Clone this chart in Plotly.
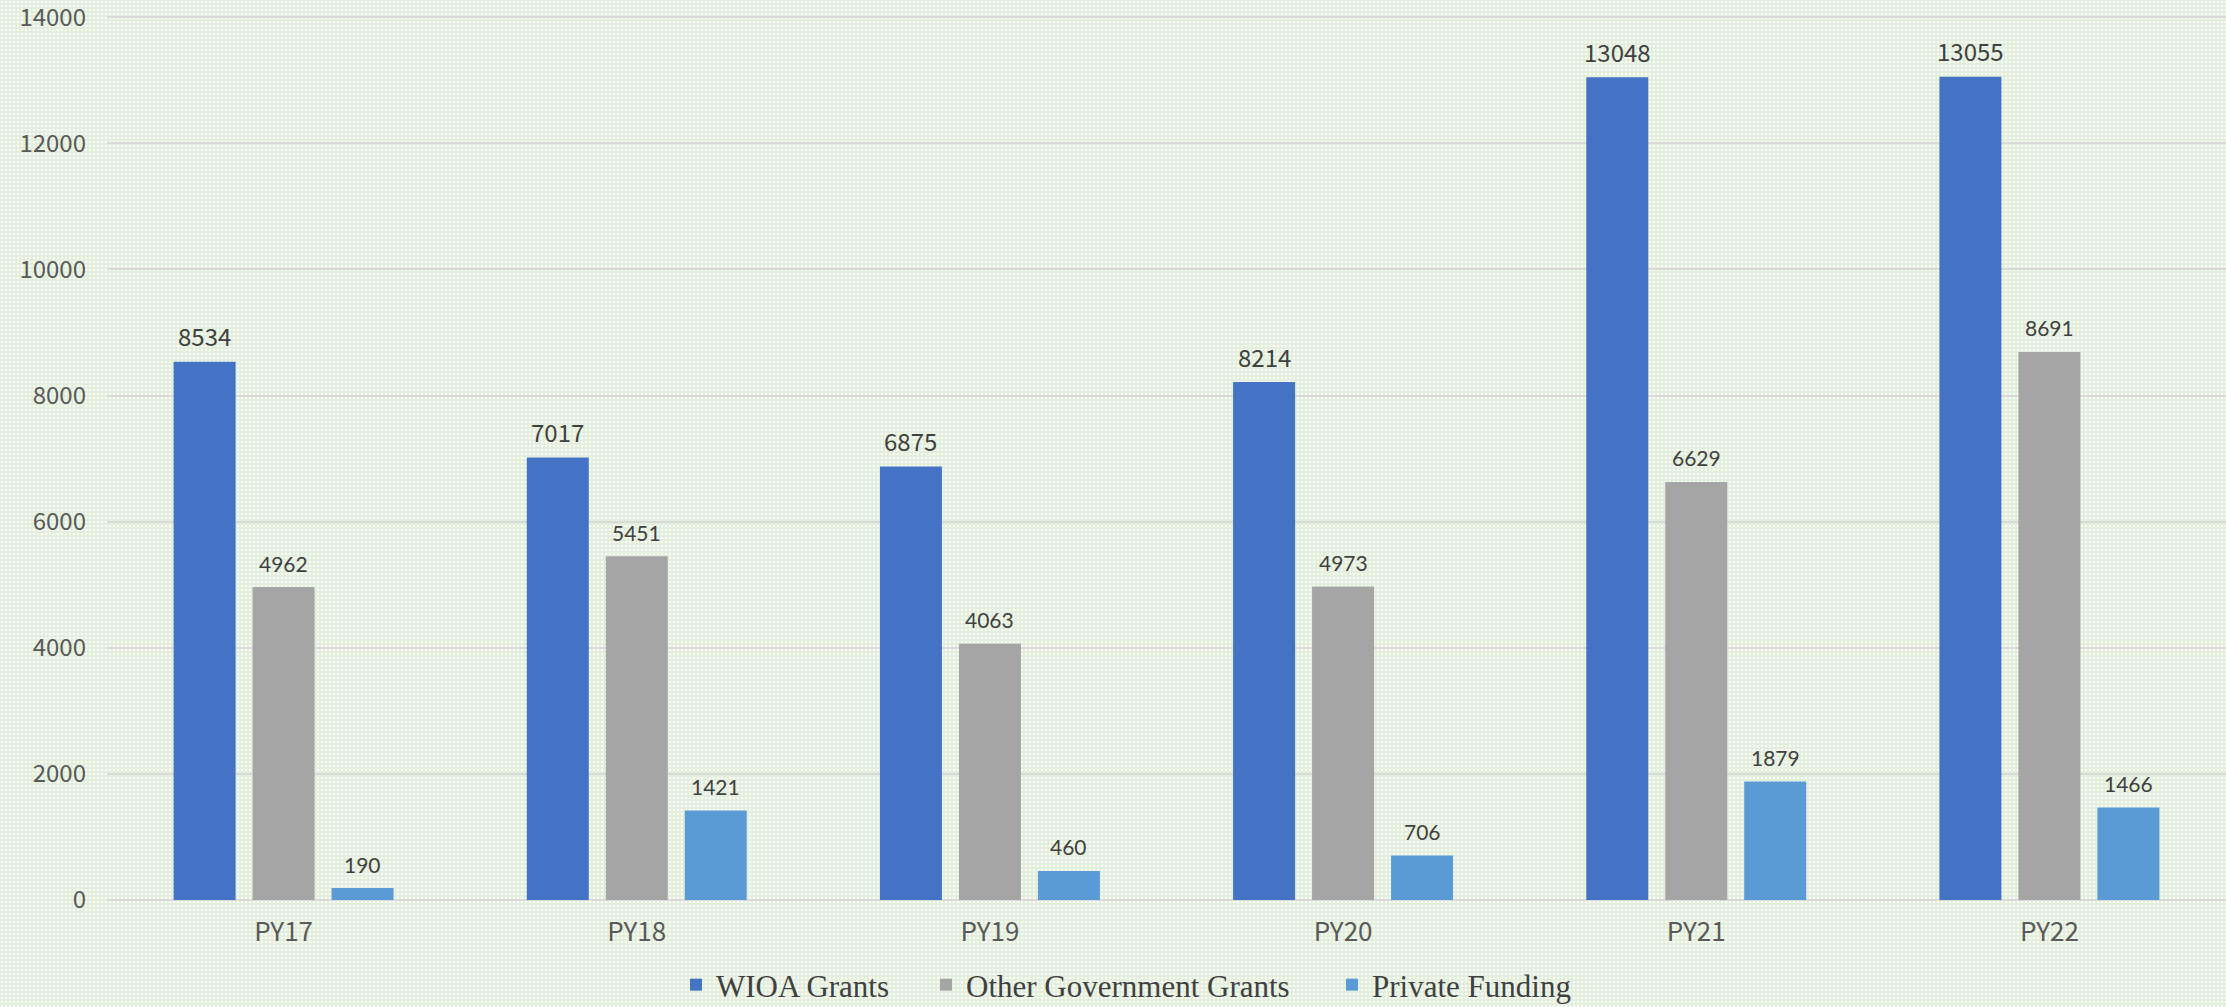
import base64
import plotly.graph_objects as go

# Funding by program year
years = ["PY17", "PY18", "PY19", "PY20", "PY21", "PY22"]
wioa_grants = [8534, 7017, 6875, 8214, 13048, 13055]
other_gov_grants = [4962, 5451, 4063, 4973, 6629, 8691]
private_funding = [190, 1421, 460, 706, 1879, 1466]
y_ticks = [0, 2000, 4000, 6000, 8000, 10000, 12000, 14000]

series_names = ["WIOA Grants", "Other Government Grants", "Private Funding"]
series_values = [wioa_grants, other_gov_grants, private_funding]
series_colors = ["#4472C4", "#A5A5A5", "#5B9BD5"]
legend_ids = ["legend", "legend2", "legend3"]
legend_left_px = [676, 926, 1332]

W, H = 2226, 1007
M_L, M_R, M_T, M_B = 107, 0, 14, 107
BARGAP = 0.329
BARGROUPGAP = 0.215
pw, ph = W - M_L - M_R, H - M_T - M_B

fig = go.Figure()
for name, vals, color, lg in zip(series_names, series_values, series_colors, legend_ids):
    fig.add_trace(go.Bar(
        name=name, x=years, y=vals, legend=lg,
        marker=dict(color=color, line=dict(width=0)),
    ))

# value labels above each bar, placed at the grouped-bar offsets
slot = (1 - BARGAP) / len(series_names)
annotations = []
for k, vals in enumerate(series_values):
    off = (k - (len(series_names) - 1) / 2) * slot
    if k == 0:
        font = dict(family="Noto Sans CJK JP", size=24, color="#404040")
        shift = 26
    else:
        font = dict(family="Lato", size=21, color="#404040")
        shift = 24
    for i, v in enumerate(vals):
        annotations.append(dict(
            x=i + off, y=v, xref="x", yref="y", text=str(v),
            showarrow=False, yanchor="middle", yshift=shift, font=font,
        ))

# dotted light-green backdrop
svg = (
    f'<svg xmlns="http://www.w3.org/2000/svg" width="{W}" height="{H}">'
    '<defs><pattern id="p" width="4" height="4" patternUnits="userSpaceOnUse">'
    '<rect width="4" height="4" fill="#E2EFDA"/>'
    '<rect x="1" y="1" width="2" height="2" fill="#FFFFFF"/>'
    '</pattern></defs>'
    f'<rect width="{W}" height="{H}" fill="url(#p)"/></svg>'
)
src = "data:image/svg+xml;base64," + base64.b64encode(svg.encode()).decode()

legend_style = dict(
    orientation="h", xanchor="left", yref="container", y=1 - 985 / H,
    yanchor="middle",
    font=dict(family="Liberation Serif", size=31, color="#404040"),
    bgcolor="rgba(0,0,0,0)", itemclick=False, itemdoubleclick=False,
)
legends = {lg: dict(legend_style, x=(px - M_L) / pw)
           for lg, px in zip(legend_ids, legend_left_px)}

fig.update_layout(
    width=W, height=H,
    margin=dict(l=M_L, r=M_R, t=M_T, b=M_B, pad=0, autoexpand=False),
    barmode="group", bargap=BARGAP, bargroupgap=BARGROUPGAP,
    paper_bgcolor="#E9F3E3", plot_bgcolor="rgba(0,0,0,0)",
    images=[dict(
        source=src, xref="paper", yref="paper",
        x=-M_L / pw, y=1 + M_T / ph, sizex=W / pw, sizey=H / ph,
        xanchor="left", yanchor="top", sizing="stretch", layer="below",
    )],
    annotations=annotations,
    showlegend=True,
    xaxis=dict(
        showgrid=False, showline=False, ticks="",
        tickfont=dict(family="Noto Sans CJK JP", size=26, color="#595959"),
        ticklabelstandoff=14,
    ),
    yaxis=dict(
        range=[0, 14050], tickmode="array", tickvals=y_ticks,
        ticktext=[str(t) for t in y_ticks], ticklabeloverflow="allow",
        showgrid=True, gridcolor="#D9D9D9", gridwidth=2, zeroline=True,
        zerolinecolor="#D9D9D9", zerolinewidth=2, showline=False, ticks="",
        tickfont=dict(family="Noto Sans CJK JP", size=24, color="#595959"),
        ticklabelstandoff=20,
    ),
    **legends,
)

fig.write_html("out.html")
